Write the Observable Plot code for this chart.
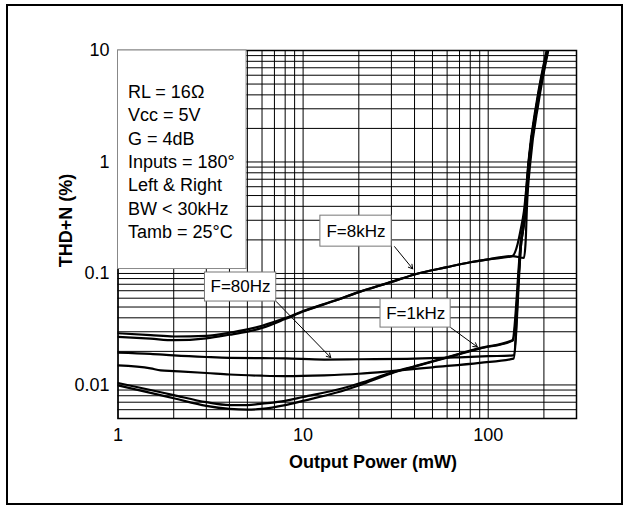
<!DOCTYPE html>
<html><head><meta charset="utf-8">
<script src="https://cdn.jsdelivr.net/npm/d3@7"></script>
<script src="https://cdn.jsdelivr.net/npm/@observablehq/plot@0.6"></script>
<style>
html,body{margin:0;padding:0;background:#fff;}
#wrap{position:relative;width:625px;height:505px;overflow:hidden;}
#wrap svg{position:absolute;left:0;top:0;display:block;}
#border{position:absolute;left:6px;top:4px;width:617px;height:501px;border:2px solid #000;box-sizing:border-box;pointer-events:none;}
</style></head><body>
<div id="wrap"><div id="border"></div></div>
<script>
// ---- data (Output Power in mW, THD+N in %) ----
const p8kA   = [1, 1.5, 2, 3, 4, 5, 6, 8, 10, 15, 20, 30, 40, 60, 80, 100, 135, 144, 150, 156, 166, 185, 209];
const thd8kA = [0.0291, 0.028, 0.0272, 0.0276, 0.0294, 0.0315, 0.034, 0.0398, 0.046, 0.0575, 0.068, 0.084, 0.098, 0.114, 0.126, 0.134, 0.143, 0.182, 0.25, 0.36, 1.05, 3.6, 10];
const p8kB   = [1, 1.5, 2, 3, 4, 5, 6, 8, 10, 15, 20, 30, 40, 60, 80, 100, 135, 156, 159.5, 162, 169, 187, 211];
const thd8kB = [0.027, 0.026, 0.0252, 0.0262, 0.0282, 0.0301, 0.0325, 0.039, 0.0455, 0.0572, 0.068, 0.084, 0.098, 0.114, 0.126, 0.134, 0.143, 0.138, 0.2, 0.4, 1.0, 3.4, 10];
const p80A   = [1, 1.5, 2, 3, 4, 6, 8, 13, 20, 40, 70, 100, 137, 150, 157, 166, 184, 208];
const thd80A = [0.0195, 0.019, 0.0184, 0.0178, 0.0175, 0.0174, 0.0173, 0.0169, 0.017, 0.0172, 0.0177, 0.0181, 0.0184, 0.19, 0.32, 1.0, 3.5, 10];
const p80B   = [1, 1.5, 1.7, 2, 3, 4, 6, 8, 13, 20, 30, 50, 90, 137, 151, 158, 167, 186, 210];
const thd80B = [0.015, 0.0141, 0.0135, 0.0133, 0.0128, 0.0124, 0.0121, 0.012, 0.0122, 0.0126, 0.0133, 0.0144, 0.0158, 0.0172, 0.19, 0.32, 1.0, 3.5, 10];
const p1kA   = [1, 1.5, 2, 3, 4, 5, 6, 8, 10, 15, 20, 30, 40, 60, 90, 135, 150, 157, 165, 183, 207];
const thd1kA = [0.0104, 0.009, 0.0081, 0.007, 0.0066, 0.0066, 0.0068, 0.0072, 0.0078, 0.009, 0.0103, 0.0129, 0.0147, 0.0177, 0.0214, 0.0252, 0.19, 0.33, 1.0, 3.5, 10];
const p1kB   = [1, 1.5, 2, 3, 4, 5, 6, 8, 10, 15, 20, 30, 40, 60, 90, 136, 151, 158, 166, 185, 209];
const thd1kB = [0.0099, 0.0085, 0.0076, 0.0065, 0.0061, 0.006, 0.0061, 0.0066, 0.0072, 0.0085, 0.0099, 0.0127, 0.0146, 0.0176, 0.0212, 0.025, 0.19, 0.33, 1.0, 3.5, 10];

const xTicks = [1, 10, 100];
const xTickLabels = ["1", "10", "100"];
const yTicks = [0.01, 0.1, 1, 10];
const yTickLabels = ["0.01", "0.1", "1", "10"];
const xTitle = "Output Power (mW)";
const yTitle = "THD+N (%)";
const noteLines = ["RL = 16\u03A9", "Vcc = 5V", "G = 4dB", "Inputs = 180\u00B0", "Left & Right", "BW < 30kHz", "Tamb = 25\u00B0C"];
const curveLabels = ["F=8kHz", "F=80Hz", "F=1kHz"];

// ---- build tables ----
const series = [
  ["8kHz A", p8kA, thd8kA], ["8kHz B", p8kB, thd8kB],
  ["80Hz A", p80A, thd80A], ["80Hz B", p80B, thd80B],
  ["1kHz A", p1kA, thd1kA], ["1kHz B", p1kB, thd1kB]
];
const rows = series.flatMap(([curve, xs, ys]) => xs.map((x, i) => ({curve, power: x, thd: ys[i]})));

const xGrid = [1, 10, 100].flatMap(d => d3.range(1, 10).map(k => k * d)).filter(v => v <= 300);
const yGrid = [0.001, 0.01, 0.1, 1].flatMap(d => d3.range(1, 10).map(k => +(k * d).toPrecision(3))).filter(v => v >= 0.005).concat([10]);

// annotation anchors (data units)
const labelBoxes = [
  {label: curveLabels[0], x1: 12.4, x2: 30.1, y1: 0.174, y2: 0.330, tx: 19.3, ty: 0.239, ax1: 31.2, ay1: 0.174, ax2: 39.1, ay2: 0.110},
  {label: curveLabels[1], x1: 2.95, x2: 7.16, y1: 0.056, y2: 0.102, tx: 4.59, ty: 0.0756, ax1: 7.16, ay1: 0.056, ax2: 14.1, ay2: 0.0176},
  {label: curveLabels[2], x1: 26.2, x2: 62.7, y1: 0.0327, y2: 0.0589, tx: 40.6, ty: 0.0439, ax1: 62.7, ay1: 0.0327, ax2: 87.4, ay2: 0.0219}
];

const font = "'Liberation Sans', Arial, Helvetica, sans-serif";

const chart = Plot.plot({
  width: 625, height: 505,
  marginLeft: 117.5, marginRight: 49, marginTop: 50, marginBottom: 87,
  style: {fontFamily: font, fontSize: "18px", background: "transparent", color: "#000", overflow: "visible"},
  x: {type: "log", domain: [1, 300], label: null},
  y: {type: "log", domain: [0.005, 10], label: null},
  marks: [
    Plot.gridX({ticks: xGrid, stroke: "#000", strokeOpacity: 1, strokeWidth: 1}),
    Plot.gridY({ticks: yGrid, stroke: "#000", strokeOpacity: 1, strokeWidth: 1}),
    Plot.frame({stroke: "#000", strokeWidth: 1.5}),
    Plot.line(rows, {x: "power", y: "thd", z: "curve", stroke: "#000", strokeWidth: 2.2, clip: true, curve: "monotone-x"}),
    Plot.rect([{}], {x1: () => 1, x2: () => 4.95, y1: () => 0.1096, y2: () => 10, fill: "#fff", stroke: "#888", strokeWidth: 1}),
    Plot.text([noteLines.join("\n")], {frameAnchor: "top-left", dx: 10, dy: 30.5, textAnchor: "start", lineAnchor: "top", lineHeight: 1.303, fontSize: 18, fill: "#000"}),
    Plot.arrow(labelBoxes, {x1: "ax1", y1: "ay1", x2: "ax2", y2: "ay2", stroke: "#000", strokeWidth: 1, headLength: 7}),
    Plot.rect(labelBoxes, {x1: "x1", x2: "x2", y1: "y1", y2: "y2", fill: "#fff", stroke: "#777", strokeWidth: 1}),
    Plot.text(labelBoxes, {x: "tx", y: "ty", text: "label", fontSize: 17, fill: "#000"}),
    Plot.axisX({ticks: xTicks, tickFormat: (d) => xTickLabels[xTicks.indexOf(d)], tickSize: 0, tickPadding: 10, fontSize: 18, label: null}),
    Plot.axisY({ticks: yTicks, tickFormat: (d) => yTickLabels[yTicks.indexOf(d)], tickSize: 0, tickPadding: 8.5, fontSize: 18, label: null}),
    Plot.text([xTitle], {frameAnchor: "bottom", dx: 25.75, dy: 44, textAnchor: "middle", lineAnchor: "middle", fontWeight: "bold", fontSize: 18, fill: "#000"}),
    Plot.text([yTitle], {frameAnchor: "left", dx: -51.5, dy: -14, rotate: -90, textAnchor: "middle", lineAnchor: "middle", fontWeight: "bold", fontSize: 18, fill: "#000"})
  ]
});
document.getElementById("wrap").prepend(chart);
</script>
</body></html>
